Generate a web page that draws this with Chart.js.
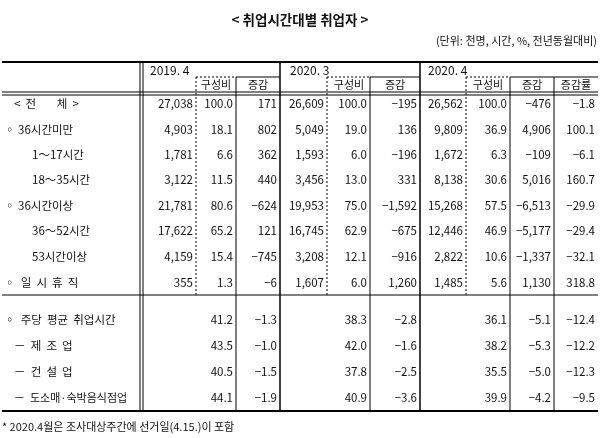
<!DOCTYPE html>
<html><head><meta charset="utf-8">
<script src="https://cdn.jsdelivr.net/npm/chart.js@4"></script>
<style>html,body{margin:0;padding:0;background:#fff}</style>
</head><body>
<canvas id="c" width="600" height="438"></canvas>
<script>
const title = "< 취업시간대별 취업자 >";
const unitNote = "(단위: 천명, 시간, %, 전년동월대비)";
const footNote = "* 2020.4월은 조사대상주간에 선거일(4.15.)이 포함";
const periods = ["2019. 4", "2020. 3", "2020. 4"];
const subHeaders = ["구성비", "증감", "구성비", "증감", "구성비", "증감", "증감률"];
const rowLabels = ["<  전        체  >", "◦ 36시간미만", "1～17시간", "18～35시간", "◦ 36시간이상", "36～52시간", "53시간이상", "◦  일  시  휴  직",
  "◦  주당  평균  취업시간", "－  제  조  업", "－  건  설  업", "－  도소매·숙박음식점업"];
const rowIndent = [14, 4, 32, 32, 4, 32, 32, 4, 4, 14, 14, 14];
const v2019 = ["27,038","4,903","1,781","3,122","21,781","17,622","4,159","355","","","",""];
const r2019 = ["100.0","18.1","6.6","11.5","80.6","65.2","15.4","1.3","41.2","43.5","40.5","44.1"];
const d2019 = ["171","802","362","440","−624","121","−745","−6","−1.3","−1.0","−1.5","−1.9"];
const v2003 = ["26,609","5,049","1,593","3,456","19,953","16,745","3,208","1,607","","","",""];
const r2003 = ["100.0","19.0","6.0","13.0","75.0","62.9","12.1","6.0","38.3","42.0","37.8","40.9"];
const d2003 = ["−195","136","−196","331","−1,592","−675","−916","1,260","−2.8","−1.6","−2.5","−3.6"];
const v2004 = ["26,562","9,809","1,672","8,138","15,268","12,446","2,822","1,485","","","",""];
const r2004 = ["100.0","36.9","6.3","30.6","57.5","46.9","10.6","5.6","36.1","38.2","35.5","39.9"];
const d2004 = ["−476","4,906","−109","5,016","−6,513","−5,177","−1,337","1,130","−5.1","−5.3","−5.0","−4.2"];
const p2004 = ["−1.8","100.1","−6.1","160.7","−29.9","−29.4","−32.1","318.8","−12.4","−12.2","−12.3","−9.5"];
const columns = [v2019, r2019, d2019, v2003, r2003, d2003, v2004, r2004, d2004, p2004];

const colRight = [196, 236, 280, 327, 370, 420, 466, 510, 554, 598];
const rowY = [104, 130, 155, 180, 206, 231, 257, 283, 320, 346, 372, 398];

const F = '"Noto Sans CJK KR", sans-serif';
const tablePlugin = {
  id: 'table',
  afterDraw(chart) {
    const ctx = chart.ctx, X = v => chart.scales.x.getPixelForValue(v), Y = v => chart.scales.y.getPixelForValue(v);
    const line = (x1, y1, x2, y2, w, dash) => {
      ctx.save(); ctx.beginPath(); ctx.lineWidth = w; ctx.strokeStyle = '#000';
      ctx.setLineDash(dash || []); ctx.moveTo(X(x1), Y(y1)); ctx.lineTo(X(x2), Y(y2)); ctx.stroke(); ctx.restore();
    };
    const text = (s, x, y, align, font) => {
      ctx.save(); ctx.fillStyle = '#111'; ctx.font = font || ('11.5px ' + F);
      ctx.textAlign = align; ctx.textBaseline = 'middle'; ctx.fillText(s, X(x), Y(y)); ctx.restore();
    };
    text(title, 300, 20, 'center', 'bold 13.5px ' + F);
    text(unitNote, 597, 41, 'right', '11px ' + F);
    line(2, 62, 598, 62, 2);
    line(2, 92, 598, 92, 1); line(2, 95, 598, 95, 1);
    line(2, 295, 598, 295, 1);
    line(2, 411, 598, 411, 2);
    line(140, 62, 140, 411, 1); line(143, 62, 143, 411, 1);
    [280, 420].forEach(x => line(x, 62, x, 411, 1.5));
    [236, 370, 510, 554].forEach(x => line(x, 77, x, 411, 1));
    [196, 327, 466].forEach(x => line(x, 77, x, 295, 1, [2, 2]));
    [[196, 236, true], [236, 280, false], [327, 370, true], [370, 420, false], [466, 510, true], [510, 598, false]]
      .forEach(([a, b, d]) => line(a, 77, b, 77, 1, d ? [2, 2] : []));
    periods.forEach((p, i) => text(p, [150, 290, 428][i], 70, 'left', '12px ' + F));
    const subX = [216, 258, 349, 395, 488, 532, 576];
    subHeaders.forEach((s, i) => text(s, subX[i], 85, 'center', '11px ' + F));
    rowLabels.forEach((s, i) => text(s, rowIndent[i], rowY[i], 'left', (i === 11 ? '11px ' : '11.5px ') + F));
    columns.forEach((col, c) => col.forEach((v, r) => { if (v) text(v, colRight[c] - 3, rowY[r], 'right'); }));
    text(footNote, 2, 427, 'left', '11px ' + F);
  }
};
new Chart(document.getElementById('c'), {
  type: 'scatter',
  data: { datasets: [{ data: [], pointRadius: 0 }] },
  options: {
    responsive: false, animation: false, layout: { padding: 0 },
    plugins: { legend: { display: false }, tooltip: { enabled: false } },
    scales: {
      x: { type: 'linear', min: 0, max: 600, display: false },
      y: { type: 'linear', min: 0, max: 438, reverse: true, display: false }
    }
  },
  plugins: [tablePlugin]
});
</script>
</body></html>
